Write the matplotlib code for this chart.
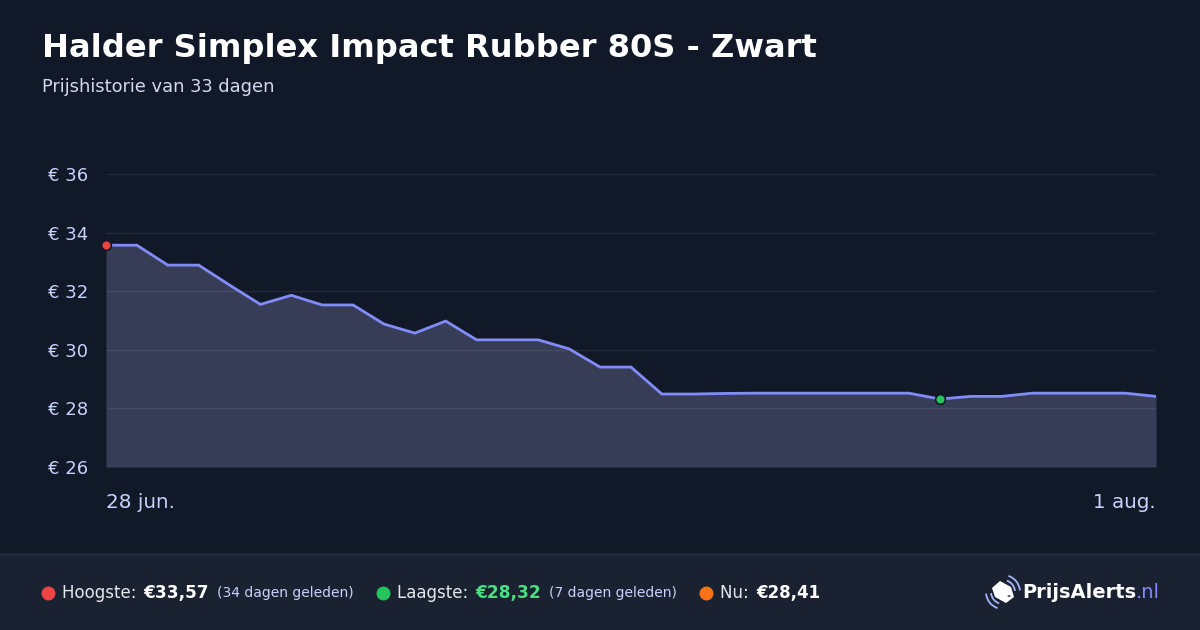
import os
import numpy as np
import matplotlib
matplotlib.use("Agg")
import matplotlib.pyplot as plt
from matplotlib import font_manager
from matplotlib.patches import Polygon, Arc, Rectangle, Circle
from matplotlib.lines import Line2D

ttf_dir = os.path.join(matplotlib.get_data_path(), "fonts", "ttf")
REG = font_manager.FontProperties(fname=os.path.join(ttf_dir, "DejaVuSans.ttf"))
BOLD = font_manager.FontProperties(fname=os.path.join(ttf_dir, "DejaVuSans-Bold.ttf"))

# price per day, 28 jun. .. 1 aug.
prices = [33.57, 33.57, 32.89, 32.89, 32.21, 31.55, 31.86, 31.53, 31.53, 30.88,
          30.57, 30.98, 30.34, 30.34, 30.34, 30.03, 29.41, 29.41, 28.49, 28.49,
          28.51, 28.52, 28.52, 28.52, 28.52, 28.52, 28.52, 28.32, 28.41, 28.41,
          28.52, 28.52, 28.52, 28.52, 28.41]
date_labels = ["28 jun.", "1 aug."]
y_ticks = [26, 28, 30, 32, 34, 36]

title = "Halder Simplex Impact Rubber 80S - Zwart"
subtitle = "Prijshistorie van 33 dagen"
high_txt, high_ago = "€33,57", "(34 dagen geleden)"
low_txt, low_ago = "€28,32", "(7 dagen geleden)"
now_txt = "€28,41"

BG = "#111827"
FOOT = "#1a2131"
LINE = "#818cf8"
FILL = "#383d57"
TICK = "#c7d2fe"
RED, GREEN, ORANGE = "#ef4444", "#22c55e", "#f97316"

W, H = 1200, 630
fig = plt.figure(figsize=(12, 6.3), dpi=100, facecolor=BG)


def px(x, y):
    return x / W, 1 - y / H


def font(bold, size):
    p = (BOLD if bold else REG).copy()
    p.set_size(size)
    return p


ax = fig.add_axes([106 / W, 1 - 467 / H, 1050 / W, 293 / H])
ax.set_facecolor(BG)
days = np.arange(len(prices))
ax.fill_between(days, prices, 26, color=FILL, lw=0, zorder=1)
ax.plot(days, prices, color=LINE, lw=2, solid_joinstyle="miter", zorder=3)

i_hi = int(np.argmax(prices))
i_lo = int(np.argmin(prices))
ax.plot(days[i_hi], prices[i_hi], "o", ms=7, color=RED, mec=BG, mew=1.2, zorder=4, clip_on=False)
ax.plot(days[i_lo], prices[i_lo], "o", ms=7, color=GREEN, mec=BG, mew=1.2, zorder=4, clip_on=False)

ax.set_xlim(0, len(prices) - 1)
ax.set_ylim(26, 36)
ax.set_yticks(y_ticks)
ax.set_yticklabels([f"€ {v}" for v in y_ticks], fontproperties=font(False, 13))
for v in y_ticks:
    ax.axhline(v, color="white", alpha=0.07, lw=1, zorder=2)
ax.set_xticks([0, len(prices) - 1])
ax.set_xticklabels(date_labels, fontproperties=font(False, 14.3))
xl = ax.get_xticklabels()
xl[0].set_ha("left")
xl[1].set_ha("right")
ax.tick_params(axis="x", length=0, pad=19, labelcolor=TICK)
ax.tick_params(axis="y", length=0, pad=13, labelcolor=TICK)
for s in ax.spines.values():
    s.set_visible(False)
ax.axhline(26, color="#4a5068", lw=1, zorder=2)

fig.text(*px(42, 48), title, fontproperties=font(True, 23.1), color="white", va="center")
fig.text(*px(42, 87), subtitle, fontproperties=font(False, 12.9), color="#d4d8f0", va="center")

# footer band
fig.patches.append(Rectangle((0, 0), 1, 1 - 554 / H, transform=fig.transFigure,
                             facecolor=FOOT, edgecolor="none", zorder=0))
fig.lines.append(Line2D([0, 1], [1 - 554 / H] * 2, transform=fig.transFigure,
                        color="#263150", lw=1))

renderer = fig.canvas.get_renderer()


def chain(x, y, parts):
    for txt, size, bold, color, gap in parts:
        t = fig.text(*px(x, y), txt, fontproperties=font(bold, size), color=color, va="center")
        bb = t.get_window_extent(renderer)
        x = bb.x1 + gap
    return x


fy = 593
for cx, col in [(48, RED), (383, GREEN), (706, ORANGE)]:
    fig.lines.append(Line2D([cx / W], [1 - fy / H], transform=fig.transFigure, marker="o",
                            ms=9, color=col, lw=0))

chain(62, fy, [("Hoogste: ", 12, False, "#e5e7eb", 2),
               (high_txt, 12.2, True, "white", 8),
               (high_ago, 10, False, TICK, 0)])
chain(397, fy, [("Laagste: ", 12, False, "#e5e7eb", 2),
                (low_txt, 12.2, True, "#4ade80", 8),
                (low_ago, 10, False, TICK, 0)])
chain(720, fy, [("Nu: ", 12, False, "#e5e7eb", 2),
                (now_txt, 12, True, "white", 0)])

# logo
tag = Polygon([px(992, 588), px(1000, 581), px(1011, 587), px(1014, 597),
               px(1006, 603), px(995, 597)], closed=True, transform=fig.transFigure,
              facecolor="white", edgecolor="none")
fig.patches.append(tag)
fig.patches.append(Circle(px(1009, 596), 1.5 / W, transform=fig.transFigure,
                          facecolor=FOOT, edgecolor="none"))
for r in (12, 17):
    fig.patches.append(Arc(px(1003, 592), r * 2 / W, r * 2 / H, theta1=10, theta2=80,
                           transform=fig.transFigure, color="#a5b4fc", lw=1.3))
    fig.patches.append(Arc(px(1003, 592), r * 2 / W, r * 2 / H, theta1=190, theta2=260,
                           transform=fig.transFigure, color="#a5b4fc", lw=1.3))
chain(1022, fy, [("PrijsAlerts", 14, True, "white", 0),
                 (".nl", 14, False, LINE, 0)])

fig.savefig("out.png", dpi=100, facecolor=BG)
